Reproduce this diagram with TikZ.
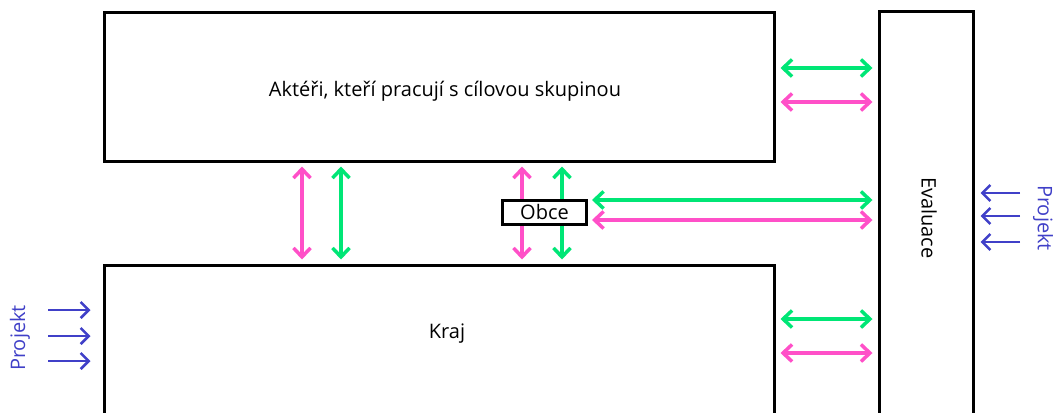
\documentclass[tikz,border=0pt]{standalone}
\usepackage{fontspec}
\setmainfont{Open Sans}
\usetikzlibrary{arrows.meta}
\definecolor{cgreen}{RGB}{0,230,118}
\definecolor{cpink}{RGB}{255,80,200}
\definecolor{cblue}{RGB}{64,64,200}
\begin{document}
\begin{tikzpicture}[x=1pt,y=-1pt,
  box/.style={draw=black,line width=3pt,fill=white,inner sep=0pt},
  barb/.tip={Straight Barb[length=9pt,width=17pt,line width=3.5pt]},
  dbl/.style={barb-barb, line width=4pt},
  garrow/.style={dbl,draw=cgreen},
  parrow/.style={dbl,draw=cpink},
  barrow/.style={-{Straight Barb[length=8pt,width=16pt,line width=2.6pt]},line width=2.6pt,draw=cblue},
  lbl/.style={font=\fontsize{20}{24}\selectfont}]
\path[use as bounding box,clip] (0,0) rectangle (1054,412);
\fill[white] (0,0) rectangle (1054,412);
\node[box,minimum width=670pt,minimum height=148pt] (top) at (439,87) {};
\node[lbl] (toptxt) at (445,91) {Aktéři, kteří pracují s cílovou skupinou};
\node[box,minimum width=670pt,minimum height=180pt] (bot) at (439,355) {};
\node[lbl] (kraj) at (447,334) {Kraj};
\node[box,minimum width=94pt,minimum height=440pt] (eval) at (926,232) {};
\node[lbl,rotate=-90] (evaltxt) at (929,218) {Evaluace};
% vertical arrows
\draw[parrow] ([yshift=-4pt]top.south -| 302,0) -- ([yshift=4pt]bot.north -| 302,0);
\draw[garrow] ([yshift=-4pt]top.south -| 341,0) -- ([yshift=4pt]bot.north -| 341,0);
\draw[parrow] ([yshift=-4pt]top.south -| 522,0) -- ([yshift=4pt]bot.north -| 522,0);
\draw[garrow] ([yshift=-4pt]top.south -| 562,0) -- ([yshift=4pt]bot.north -| 562,0);
\node[box,minimum width=84pt,minimum height=24pt] (obce) at (544.5,212) {};
\node[lbl] (obcetxt) at (544.5,212) {Obce};
% horizontal arrows
\draw[garrow] ([xshift=5pt]top.east |- 0,68) -- ([xshift=-5pt]eval.west |- 0,68);
\draw[parrow] ([xshift=5pt]top.east |- 0,102) -- ([xshift=-5pt]eval.west |- 0,102);
\draw[garrow] ([xshift=5pt]bot.east |- 0,319) -- ([xshift=-5pt]eval.west |- 0,319);
\draw[parrow] ([xshift=5pt]bot.east |- 0,353) -- ([xshift=-5pt]eval.west |- 0,353);
\draw[garrow] ([xshift=4pt]obce.east |- 0,200) -- ([xshift=-5pt]eval.west |- 0,200);
\draw[parrow] ([xshift=4pt]obce.east |- 0,220) -- ([xshift=-5pt]eval.west |- 0,220);
% projekt left
\node[lbl,rotate=90,text=cblue] (pl) at (20,338) {Projekt};
\foreach \yy in {310,336,361} \draw[barrow] (48,\yy) -- ([xshift=-12pt]bot.west |- 0,\yy);
% projekt right
\node[lbl,rotate=-90,text=cblue] (pr) at (1043,218) {Projekt};
\foreach \yy in {193,216,242} \draw[barrow] (1020,\yy) -- ([xshift=6pt]eval.east |- 0,\yy);
\end{tikzpicture}
\end{document}
